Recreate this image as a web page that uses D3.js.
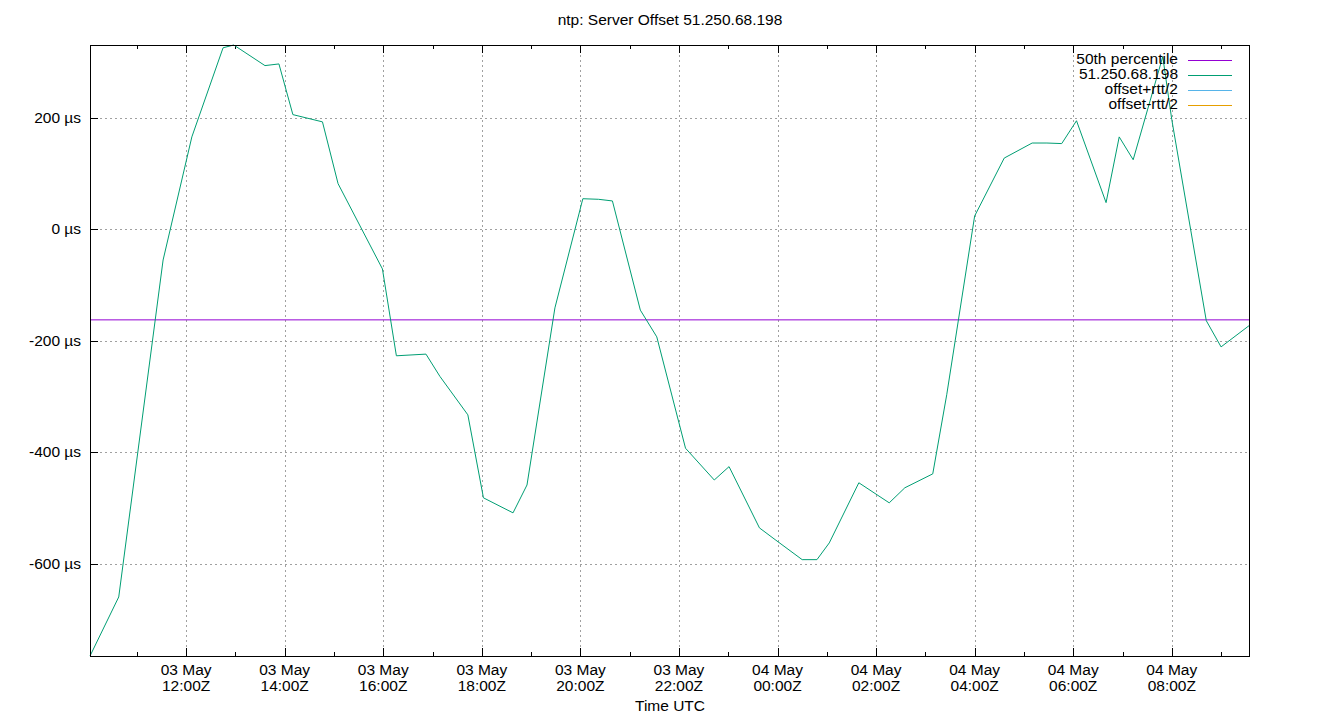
<!DOCTYPE html>
<html>
<head>
<meta charset="utf-8">
<script src="https://cdn.jsdelivr.net/npm/d3@7"></script>
<style>
  html, body { margin: 0; padding: 0; background: #fff; }
  svg { display: block; font-family: "Liberation Sans", Arial, sans-serif; }
</style>
</head>
<body>
<svg id="chart" width="1340" height="720"></svg>
<script>
// ---- data ----
const title = "ntp: Server Offset 51.250.68.198";
const xLabel = "Time UTC";
const seriesNames = ["50th percentile", "51.250.68.198", "offset+rtt/2", "offset-rtt/2"];
const seriesColors = ["#9400d3", "#009e73", "#56b4e9", "#e69f00"];
const times = [
  "2024-05-03T10:03Z","2024-05-03T10:38Z","2024-05-03T11:32Z","2024-05-03T12:07Z",
  "2024-05-03T12:45Z","2024-05-03T12:58Z","2024-05-03T13:36Z","2024-05-03T13:53Z",
  "2024-05-03T14:10Z","2024-05-03T14:46Z","2024-05-03T15:05Z","2024-05-03T15:59Z",
  "2024-05-03T16:16Z","2024-05-03T16:52Z","2024-05-03T17:09Z","2024-05-03T17:43Z",
  "2024-05-03T18:02Z","2024-05-03T18:38Z","2024-05-03T18:55Z","2024-05-03T19:29Z",
  "2024-05-03T20:03Z","2024-05-03T20:22Z","2024-05-03T20:39Z","2024-05-03T21:13Z",
  "2024-05-03T21:33Z","2024-05-03T22:08Z","2024-05-03T22:43Z","2024-05-03T23:01Z",
  "2024-05-03T23:38Z","2024-05-03T23:57Z","2024-05-04T00:30Z","2024-05-04T00:48Z",
  "2024-05-04T01:03Z","2024-05-04T01:39Z","2024-05-04T02:16Z","2024-05-04T02:35Z",
  "2024-05-04T03:09Z","2024-05-04T03:26Z","2024-05-04T04:00Z","2024-05-04T04:36Z",
  "2024-05-04T05:10Z","2024-05-04T05:28Z","2024-05-04T05:46Z","2024-05-04T06:04Z",
  "2024-05-04T06:40Z","2024-05-04T06:56Z","2024-05-04T07:13Z","2024-05-04T07:49Z",
  "2024-05-04T08:00Z","2024-05-04T08:42Z","2024-05-04T09:00Z","2024-05-04T09:34Z"
];
const offsetUs = [
  -766, -660, -55, 166,
  326, 331, 294, 297,
  206, 193, 82, -71,
  -227, -224, -264, -333,
  -482, -509, -459, -141,
  55, 54, 51, -145,
  -193, -393, -450, -426,
  -536, -557, -593, -593,
  -563, -455, -491, -464,
  -439, -297, 24, 128,
  155, 155, 154, 195,
  48, 166, 125, 310,
  197, -164, -211, -173
];
const medianUs = -162.5;
const yTicks = [-600, -400, -200, 0, 200];

// ---- layout ----
const pLeft = 90, pRight = 1249, pTop = 45, pBottom = 656;
const svg = d3.select("#chart");
const fontSize = 15.5;

const parsed = times.map(t => new Date(t.replace("Z", ":00Z")));
const x = d3.scaleUtc().domain(d3.extent(parsed)).range([pLeft, pRight]);
const y = d3.scaleLinear().domain(d3.extent(offsetUs)).range([pBottom, pTop]);

// grid
const major = x.ticks(d3.utcHour.every(2));
const minor = x.ticks(d3.utcHour.every(1));
const grid = svg.append("g").attr("stroke", "#a0a0a0").attr("stroke-width", 1)
  .attr("stroke-dasharray", "2,3").attr("shape-rendering", "crispEdges");
grid.selectAll("line.gx").data(major).join("line").attr("class", "gx")
  .attr("x1", d => Math.round(x(d)) + 0.5).attr("x2", d => Math.round(x(d)) + 0.5)
  .attr("y1", pTop).attr("y2", pBottom);
grid.selectAll("line.gy").data(yTicks).join("line").attr("class", "gy")
  .attr("x1", pLeft).attr("x2", pRight)
  .attr("y1", d => Math.round(y(d)) + 0.5).attr("y2", d => Math.round(y(d)) + 0.5);

// axes (ticks inward, mirrored on top for x)
const fmtDate = d3.utcFormat("%d %b");
const fmtTime = d3.utcFormat("%H:%MZ");
const xAxisB = d3.axisBottom(x).tickValues(major).tickSize(-8).tickFormat("");
const xAxisBMinor = d3.axisBottom(x).tickValues(minor).tickSize(-4).tickFormat("");
const xAxisT = d3.axisTop(x).tickValues(major).tickSize(-8).tickFormat("");
const xAxisTMinor = d3.axisTop(x).tickValues(minor).tickSize(-4).tickFormat("");
const yAxisL = d3.axisLeft(y).tickValues(yTicks).tickSize(-8).tickFormat("");

function styleAxis(g) {
  g.select(".domain").remove();
  g.selectAll(".tick line").attr("stroke", "#000").attr("shape-rendering", "crispEdges");
}
svg.append("g").attr("transform", `translate(0,${pBottom})`).call(xAxisBMinor).call(styleAxis);
svg.append("g").attr("transform", `translate(0,${pBottom})`).call(xAxisB).call(styleAxis);
svg.append("g").attr("transform", `translate(0,${pTop})`).call(xAxisTMinor).call(styleAxis);
svg.append("g").attr("transform", `translate(0,${pTop})`).call(xAxisT).call(styleAxis);
svg.append("g").attr("transform", `translate(${pLeft},0)`).call(yAxisL).call(styleAxis);

// x tick labels
const xl = svg.append("g").attr("font-size", fontSize).attr("text-anchor", "middle").attr("fill", "#000");
major.forEach(d => {
  const t = xl.append("text").attr("x", x(d)).attr("y", pBottom + 19);
  t.append("tspan").attr("x", x(d)).text(fmtDate(d));
  t.append("tspan").attr("x", x(d)).attr("dy", 15.5).text(fmtTime(d));
});
// y tick labels
svg.append("g").attr("font-size", fontSize).attr("text-anchor", "end").attr("fill", "#000")
  .selectAll("text").data(yTicks).join("text")
  .attr("x", pLeft - 9).attr("y", d => y(d) + 5).text(d => `${d} µs`);

// median line
svg.append("line").attr("x1", pLeft).attr("x2", pRight)
  .attr("y1", y(medianUs)).attr("y2", y(medianUs))
  .attr("stroke", seriesColors[0]).attr("stroke-width", 1);

// series line
const line = d3.line().x((d, i) => x(parsed[i])).y(d => y(d));
svg.append("path").datum(offsetUs).attr("d", line)
  .attr("fill", "none").attr("stroke", seriesColors[1]).attr("stroke-width", 1);

// border
svg.append("rect").attr("x", pLeft + 0.5).attr("y", pTop + 0.5)
  .attr("width", pRight - pLeft).attr("height", pBottom - pTop)
  .attr("fill", "none").attr("stroke", "#000").attr("stroke-width", 1)
  .attr("shape-rendering", "crispEdges");

// legend
const lg = svg.append("g").attr("font-size", fontSize);
seriesNames.forEach((name, i) => {
  const yy = 60 + i * 15;
  lg.append("text").attr("x", 1178).attr("y", yy + 4).attr("text-anchor", "end").text(name);
  lg.append("line").attr("x1", 1188).attr("x2", 1232).attr("y1", yy + 0.5).attr("y2", yy + 0.5)
    .attr("stroke", seriesColors[i]).attr("stroke-width", 1);
});

// title and axis label
svg.append("text").attr("x", 670).attr("y", 25).attr("text-anchor", "middle")
  .attr("font-size", fontSize).text(title);
svg.append("text").attr("x", 670).attr("y", 711).attr("text-anchor", "middle")
  .attr("font-size", fontSize).text(xLabel);
</script>
</body>
</html>
